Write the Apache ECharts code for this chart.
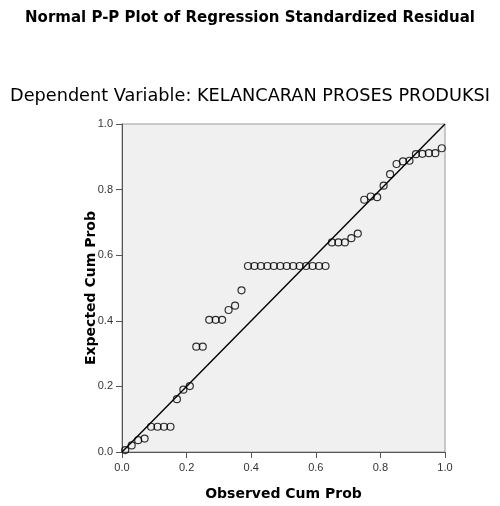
<!DOCTYPE html>
<html>
<head>
    <meta charset="utf-8">
    <title>Normal P-P Plot</title>
    <script src="https://cdn.jsdelivr.net/npm/echarts@6/dist/echarts.min.js"></script>
</head>
<body style="margin:0;background:#fff">
<div id="main" style="width: 500px;height:506px;"></div>
<script type="text/javascript">
    // observed cum prob (x) and expected cum prob (y)
    const observed = [
        0.01, 0.03, 0.05, 0.07, 0.09, 0.11, 0.13, 0.15, 0.17, 0.19,
        0.21, 0.23, 0.25, 0.27, 0.29, 0.31, 0.33, 0.35, 0.37, 0.39,
        0.41, 0.43, 0.45, 0.47, 0.49, 0.51, 0.53, 0.55, 0.57, 0.59,
        0.61, 0.63, 0.65, 0.67, 0.69, 0.71, 0.73, 0.75, 0.77, 0.79,
        0.81, 0.83, 0.85, 0.87, 0.89, 0.91, 0.93, 0.95, 0.97, 0.99
    ];
    const expected = [
        0.006, 0.020, 0.036, 0.041, 0.077, 0.077, 0.077, 0.077, 0.161, 0.190,
        0.201, 0.321, 0.321, 0.403, 0.403, 0.403, 0.433, 0.446, 0.493, 0.567,
        0.567, 0.567, 0.567, 0.567, 0.567, 0.567, 0.567, 0.567, 0.567, 0.567,
        0.567, 0.567, 0.639, 0.639, 0.639, 0.652, 0.666, 0.769, 0.779, 0.777,
        0.812, 0.847, 0.878, 0.886, 0.888, 0.908, 0.909, 0.911, 0.911, 0.926
    ];
    const refLine = [[0, 0], [1, 1]];
    const ticks = ['0.0', '0.2', '0.4', '0.6', '0.8', '1.0'];

    const points = observed.map(function (x, i) { return [x, expected[i]]; });
    const fmt = function (v) { return ticks[Math.round(v * 5)]; };

    const myChart = echarts.init(document.getElementById('main'));
    const option = {
        animation: false,
        title: [
            {
                text: 'Normal P-P Plot of Regression Standardized Residual',
                left: 'center',
                top: 6,
                textStyle: {fontFamily: 'DejaVu Sans', fontWeight: 'bold', fontSize: 15, color: '#000'}
            },
            {
                text: 'Dependent Variable: KELANCARAN PROSES PRODUKSI',
                left: 'center',
                top: 82,
                textStyle: {fontFamily: 'DejaVu Sans', fontWeight: 'normal', fontSize: 17.7, color: '#000'}
            }
        ],
        grid: {
            left: 122, top: 124, width: 323, height: 329,
            show: true, backgroundColor: '#f0f0f0', borderColor: '#999', borderWidth: 1
        },
        xAxis: {
            type: 'value', min: 0, max: 1, interval: 0.2,
            name: 'Observed Cum Prob', nameLocation: 'middle', nameGap: 35, nameMoveOverlap: false,
            nameTextStyle: {fontFamily: 'DejaVu Sans', fontWeight: 'bold', fontSize: 14, color: '#000'},
            axisLine: {show: true, lineStyle: {color: '#555'}},
            axisTick: {show: true, length: 6, lineStyle: {color: '#555'}},
            axisLabel: {formatter: fmt, fontFamily: 'Liberation Sans', fontSize: 11, color: '#333', margin: 10},
            splitLine: {show: false}
        },
        yAxis: {
            type: 'value', min: 0, max: 1, interval: 0.2,
            name: 'Expected Cum Prob', nameLocation: 'middle', nameGap: 24, nameMoveOverlap: false,
            nameTextStyle: {fontFamily: 'DejaVu Sans', fontWeight: 'bold', fontSize: 14, color: '#000'},
            axisLine: {show: true, lineStyle: {color: '#555'}},
            axisTick: {show: true, length: 6, lineStyle: {color: '#555'}},
            axisLabel: {formatter: fmt, fontFamily: 'Liberation Sans', fontSize: 11, color: '#333', margin: 9},
            splitLine: {show: false}
        },
        series: [
            {
                type: 'line',
                data: refLine,
                showSymbol: false,
                lineStyle: {color: '#000', width: 1.4},
                silent: true
            },
            {
                type: 'scatter',
                data: points,
                symbol: 'circle',
                symbolSize: 7,
                itemStyle: {color: 'rgba(0,0,0,0)', borderColor: '#000', borderWidth: 1.2}
            }
        ]
    };
    myChart.setOption(option);
</script>
</body>
</html>
